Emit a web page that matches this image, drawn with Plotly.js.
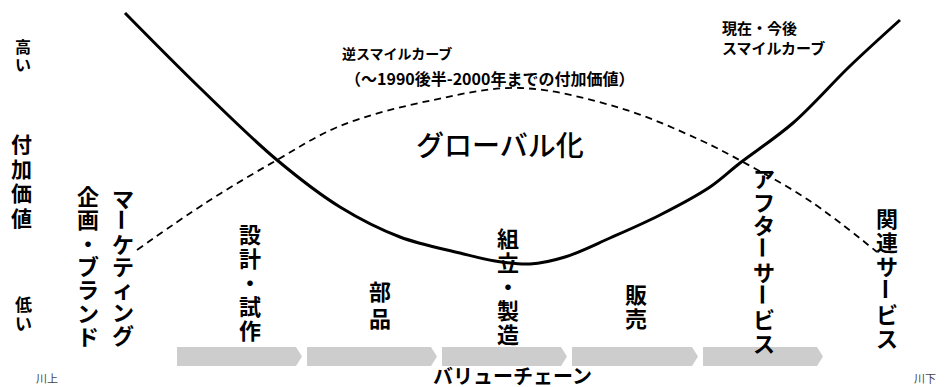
<!DOCTYPE html>
<html>
<head>
<meta charset="utf-8">
<script src="https://cdn.plot.ly/plotly-3.0.1.min.js"></script>
<style>
  html, body { margin: 0; padding: 0; background: #fff; }
  #myGraph { width: 947px; height: 387px; }
</style>
</head>
<body>
<div id="myGraph"></div>
<script>
// 座標はピクセル相当 (x: 0-947, y: 0-387 上から下)
// 現在・今後のスマイルカーブ
var smileX = [125, 200, 277, 340, 400, 460, 495, 530, 565, 610, 660, 710, 740, 793, 850, 900];
var smileY = [13, 88, 160, 207, 237, 253, 261, 264, 257, 238, 215, 187, 163, 123, 66, 20];

// 逆スマイルカーブ (点線)
var revX = [137, 207, 277, 340, 433, 520, 620, 700, 743, 810, 877];
var revY = [250, 202, 160, 126, 100, 88, 108, 140, 162, 201, 252];

// バリューチェーンの段階
var stageLabels = ['企画・ブランド', 'マーケティング', '設計・試作', '部品', '組立・製造', '販売', 'アフターサービス', '関連サービス'];
var stageEdges = [177, 307, 442, 572, 703, 828]; // 灰色の矢印帯の区切り

// 縦書きラベルの配置
var labelX = [88, 123, 250, 380, 508, 636, 764, 887];
var labelTop = [195, 197, 233, 290, 237, 293, 177, 217];
var labelStep = [23.3, 22.8, 24, 27, 24, 24, 23.5, 24];

var jp = 'Noto Sans CJK JP';
var annotations = [];

// 一文字ずつ縦に並べる (ー は回転させる)
function vert(text, x, y0, step, size, weight) {
    var chars = Array.from(text);
    for (var i = 0; i < chars.length; i++) {
        var c = chars[i];
        annotations.push({
            x: x, y: y0 + i * step, xref: 'x', yref: 'y',
            text: c, showarrow: false,
            xanchor: 'center', yanchor: 'middle',
            textangle: (c == 'ー') ? 90 : 0,
            font: { family: jp, size: size, color: '#000', weight: weight }
        });
    }
}

function label(text, x, y, size, weight, anchor, color) {
    annotations.push({
        x: x, y: y, xref: 'x', yref: 'y',
        text: text, showarrow: false,
        xanchor: anchor || 'center', yanchor: 'middle',
        font: { family: jp, size: size, color: color || '#000', weight: weight }
    });
}

for (var i = 0; i < stageLabels.length; i++) {
    vert(stageLabels[i], labelX[i], labelTop[i], labelStep[i], 22, 'bold');
}

// 左側の縦軸ラベル
vert('高い', 23, 46, 18, 16, 'bold');
vert('付加価値', 21, 143, 24.7, 21, 'bold');
vert('低い', 23, 303, 19, 17, 'bold');

label('逆スマイルカーブ', 340, 53, 14, 'bold', 'left');
label('（～1990後半-2000年までの付加価値）', 343, 78, 16, 'bold', 'left');
label('現在・今後', 720, 27, 15, 'bold', 'left');
label('スマイルカーブ', 720, 47, 15, 'bold', 'left');
label('グローバル化', 500, 144, 28, 500);
label('バリューチェーン', 512, 375, 20, 'bold');
label('川上', 47, 378, 11, 'normal', 'center', '#444');
label('川下', 925, 378, 11, 'normal', 'center', '#444');

// 灰色の矢印帯
var shapes = [];
var bandTop = 347, bandBottom = 366;
for (var k = 0; k < stageEdges.length - 1; k++) {
    var x0 = stageEdges[k], x1 = stageEdges[k + 1] - 5;
    var mid = (bandTop + bandBottom) / 2;
    shapes.push({
        type: 'path', xref: 'x', yref: 'y', layer: 'below',
        path: 'M' + x0 + ',' + bandTop + ' L' + (x1 - 6) + ',' + bandTop + ' L' + x1 + ',' + mid +
              ' L' + (x1 - 6) + ',' + bandBottom + ' L' + x0 + ',' + bandBottom + ' Z',
        fillcolor: '#cdcdcd',
        line: { width: 0 }
    });
}

var smile = {
    x: smileX, y: smileY, type: 'scatter', mode: 'lines',
    line: { color: '#000', width: 3, shape: 'spline', smoothing: 1 },
    hoverinfo: 'skip'
};
var reverse = {
    x: revX, y: revY, type: 'scatter', mode: 'lines',
    line: { color: '#000', width: 1.8, dash: '7px,5px', shape: 'spline', smoothing: 1 },
    hoverinfo: 'skip'
};

var layout = {
    width: 947, height: 387,
    margin: { l: 0, r: 0, t: 0, b: 0 },
    paper_bgcolor: '#fff',
    plot_bgcolor: '#fff',
    showlegend: false,
    xaxis: { range: [0, 947], visible: false, fixedrange: true },
    yaxis: { range: [387, 0], visible: false, fixedrange: true },
    shapes: shapes,
    annotations: annotations
};

Plotly.newPlot('myGraph', [reverse, smile], layout, { displayModeBar: false, staticPlot: true });
</script>
</body>
</html>
